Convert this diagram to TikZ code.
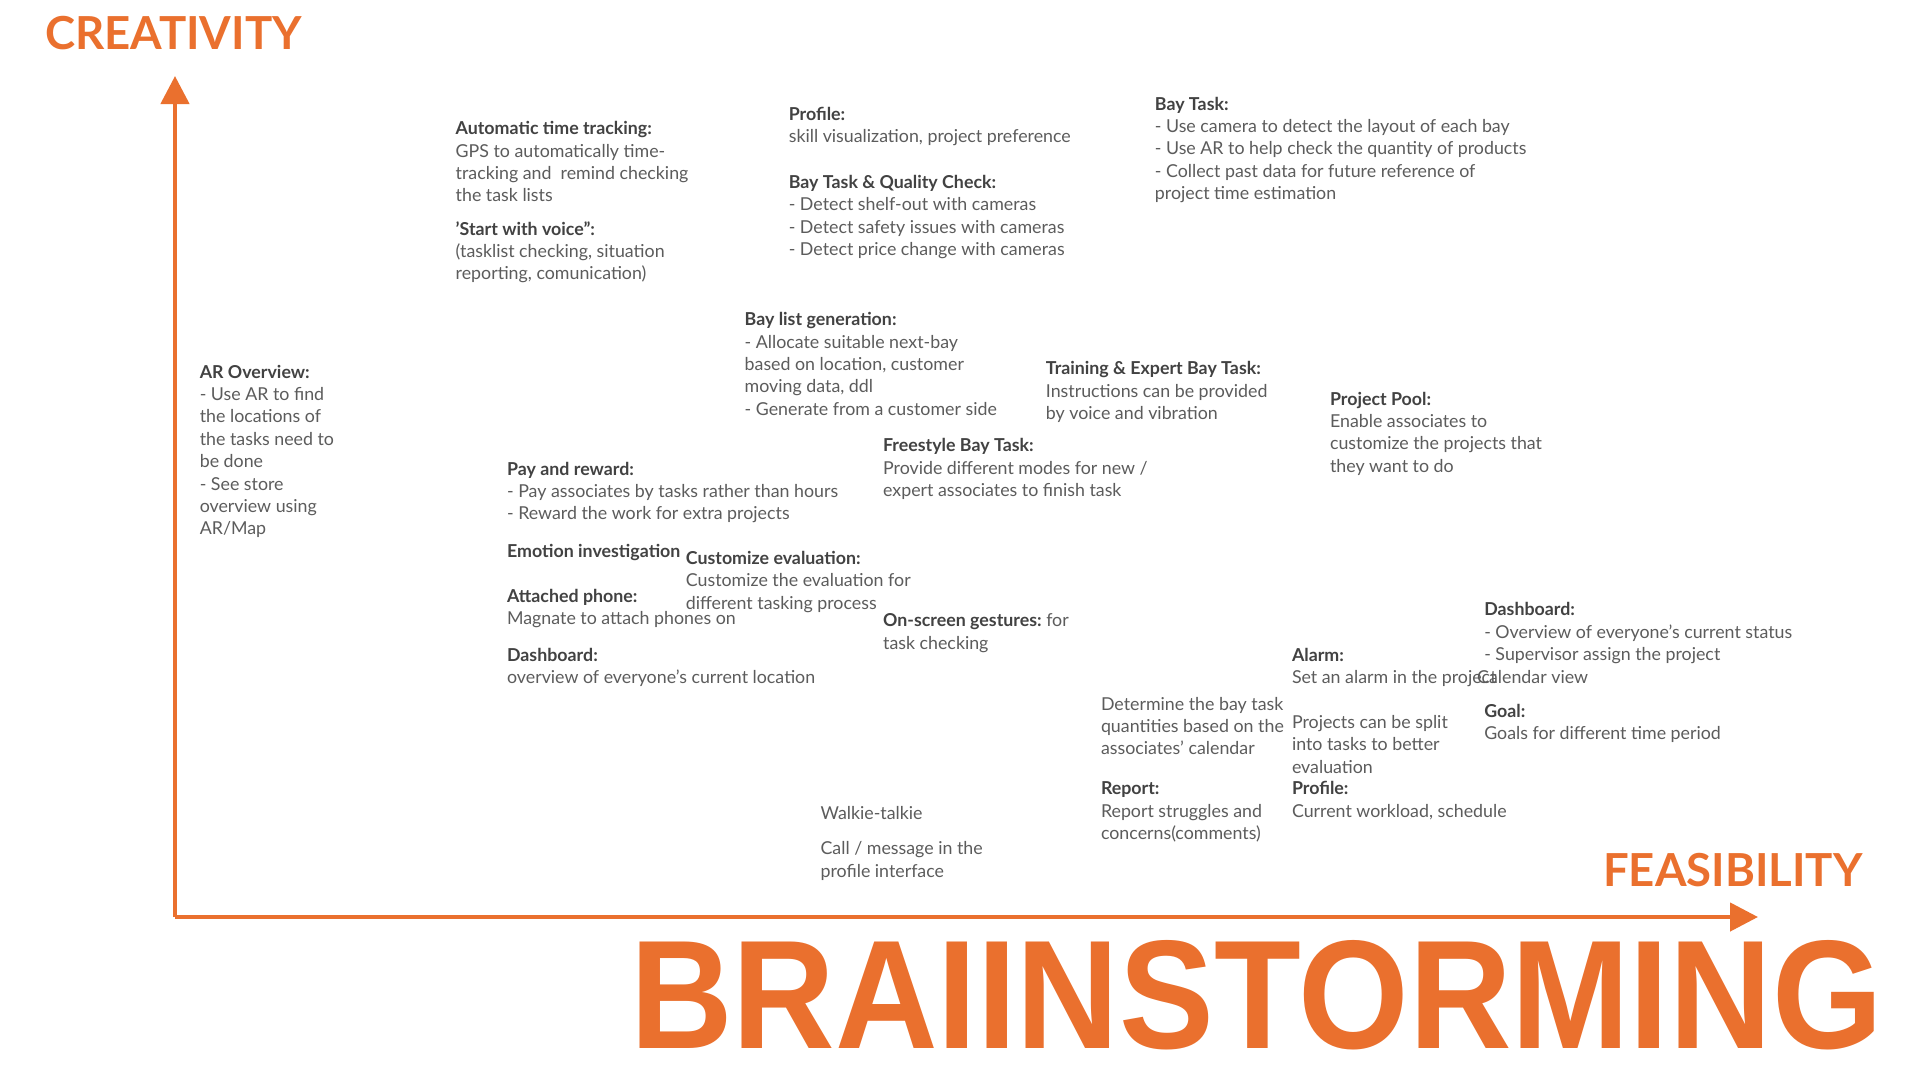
\documentclass[tikz,border=0pt]{standalone}
\usepackage{fontspec}
\usepackage{graphicx}
\setmainfont{Lato}
\newfontfamily\titlefont{Liberation Sans}
\usetikzlibrary{arrows.meta}
\definecolor{brandorange}{RGB}{234,112,46}
\definecolor{bodygray}{RGB}{92,92,92}
\definecolor{headgray}{RGB}{66,66,66}
\newcommand\hd[1]{{\bfseries\color{headgray}#1}}
\newcommand\ap{{\char"27}}
\begin{document}
\begin{tikzpicture}[x=1pt,y=-1pt,
  txt/.style={anchor=base west, inner sep=0pt, align=left, text=bodygray,
    font=\fontsize{17.8}{22.4}\selectfont},
  axislabel/.style={anchor=base west, inner sep=0pt, text=brandorange,
    font=\fontsize{45.5}{50}\selectfont\bfseries},
  axis/.style={draw=brandorange, line width=4.5pt,
    -{Triangle[width=28pt,length=28pt]}}]
\useasboundingbox[fill=white] (0,0) rectangle (1920,1080);

% axes
\coordinate (origin) at (175,917);
\coordinate (ytip) at (175,76);
\coordinate (xtip) at (1758,917);
\draw[axis] (origin) -- (ytip);
\draw[axis] (origin) -- (xtip);

\node[axislabel] (creat) at (45,49) {CREATIVITY};
\node[axislabel] (feas) at (1603,886) {FEASIBILITY};
\node[anchor=north west, inner sep=0pt, text=brandorange] (title) at (630,940)
  {\resizebox{1252pt}{108pt}{\titlefont\bfseries BRAIINSTORMING}};

% idea blocks (anchor = baseline of the last line)
\node[txt] (autotime) at (455.5,201.8) {\hd{Automatic time tracking:}\\GPS to automatically time-\\tracking and\ \ remind checking\\the task lists};
\node[txt] (voice) at (455.5,279.8) {\hd{\ap Start with voice":}\\(tasklist checking, situation\\reporting, comunication)};
\node[txt] (profiletop) at (788.6,142.4) {\hd{Profile:}\\skill visualization, project preference};
\node[txt] (bayqc) at (788.6,255.7) {\hd{Bay Task \& Quality Check:}\\- Detect shelf-out with cameras\\- Detect safety issues with cameras\\- Detect price change with cameras};
\node[txt] (baytask) at (1154.7,199.6) {\hd{Bay Task:}\\- Use camera to detect the layout of each bay\\- Use AR to help check the quantity of products\\- Collect past data for future reference of\\project time estimation};
\node[txt] (baylist) at (744.5,415.2) {\hd{Bay list generation:}\\- Allocate suitable next-bay\\based on location, customer\\moving data, ddl\\- Generate from a customer side};
\node[txt] (arover) at (199.6,534.8) {\hd{AR Overview:}\\- Use AR to find\\the locations of\\the tasks need to\\be done\\- See store\\overview using\\AR/Map};
\node[txt] (training) at (1045.7,419.4) {\hd{Training \& Expert Bay Task:}\\Instructions can be provided\\by voice and vibration};
\node[txt] (pool) at (1329.8,472.2) {\hd{Project Pool:}\\Enable associates to\\customize the projects that\\they want to do};
\node[txt] (freestyle) at (882.9,496.5) {\hd{Freestyle Bay Task:}\\Provide different modes for new /\\expert associates to finish task};
\node[txt] (pay) at (506.9,519.8) {\hd{Pay and reward:}\\- Pay associates by tasks rather than hours\\- Reward the work for extra projects};
\node[txt] (emotion) at (506.9,557) {\hd{Emotion investigation}};
\node[txt] (customize) at (685.7,609.2) {\hd{Customize evaluation:}\\Customize the evaluation for\\different tasking process};
\node[txt] (attached) at (506.9,624.7) {\hd{Attached phone:}\\Magnate to attach phones on};
\node[txt] (gestures) at (882.9,649.2) {\hd{On-screen gestures:}~for\\task checking};
\node[txt] (dashleft) at (506.9,683.4) {\hd{Dashboard:}\\overview of everyone\ap s current location};
\node[txt] (dashright) at (1484.1,660.6) {\hd{Dashboard:}\\- Overview of everyone\ap s current status\\- Supervisor assign the project};
\node[txt] (alarm) at (1291.8,683.4) {\hd{Alarm:}\\Set an alarm in the project};
\node[txt] (calendar) at (1477,683.4) {Calendar view};
\node[txt] (goal) at (1484.1,739.8) {\hd{Goal:}\\Goals for different time period};
\node[txt] (determine) at (1100.8,754.8) {Determine the bay task\\quantities based on the\\associates\ap{} calendar};
\node[txt] (split) at (1291.8,773.3) {Projects can be split\\into tasks to better\\evaluation};
\node[txt] (report) at (1100.8,839.4) {\hd{Report:}\\Report struggles and\\concerns(comments)};
\node[txt] (profilebot) at (1291.8,817) {\hd{Profile:}\\Current workload, schedule};
\node[txt] (walkie) at (820.4,819) {Walkie-talkie};
\node[txt] (call) at (820.4,877) {Call / message in the\\profile interface};
\end{tikzpicture}
\end{document}
